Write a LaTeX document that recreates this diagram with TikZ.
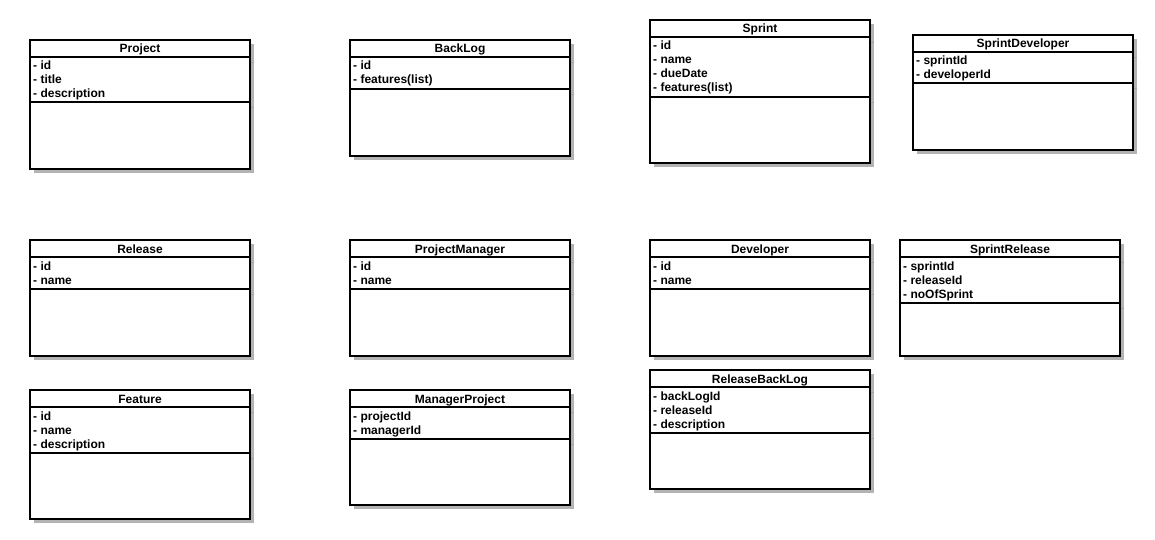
\documentclass[tikz,border=0pt]{standalone}
\usepackage{fontspec}
\setmainfont{Liberation Sans}
\usetikzlibrary{fit}

\definecolor{shadowgray}{RGB}{179,179,179}
\definecolor{shadowline}{RGB}{160,160,160}

\tikzset{
  classbox/.style={draw=black, line width=2pt, fill=white, inner sep=0pt},
  classline/.style={draw=black, line width=2pt},
  classshadow/.style={fill=shadowgray},
  shadowrule/.style={draw=shadowline, line width=0.8pt},
  classtitle/.style={font=\fontsize{12}{14}\selectfont\bfseries, inner sep=0pt},
  attrtext/.style={font=\fontsize{12}{14}\selectfont\bfseries, inner sep=0pt, anchor=base west},
}

% #1 node name, #2 left, #3 top, #4 bottom, #5 y of the attribute divider,
% #6 class name, #7 attribute list
\newcommand{\umlclass}[7]{%
  \fill[classshadow] (#2+4,#3+4) rectangle (#2+224,#4+4);
  \draw[shadowrule] (#2+220,#3+22) -- (#2+224,#3+22);
  \draw[shadowrule] (#2+220,#5+4) -- (#2+224,#5+4);
  \node[classbox, fit={(#2,#3) (#2+220,#4)}] (#1) {};
  \draw[classline] (#1.north west) ++(0,18) -- ++(220,0);
  \draw[classline] (#1.north west) ++(0,#5-#3) -- ++(220,0);
  \node[classtitle, anchor=base] (#1-title) at (#2+110,#3+13) {#6};
  \foreach \a [count=\i] in {#7} {
    \node[attrtext] (#1-a\i) at (#2+3,{#3+16+14*\i}) {- \a};
  }
}

\begin{document}
\begin{tikzpicture}[x=1pt, y=-1pt]
  \useasboundingbox (0,0) rectangle (1155,540);
  \fill[white] (0,0) rectangle (1155,540);

  % top row
  \umlclass{project}{30}{40}{169}{103}{Project}{id,title,description}
  \umlclass{backlog}{350}{40}{156}{90}{BackLog}{id,features(list)}
  \umlclass{sprint}{650}{20}{163}{98}{Sprint}{id,name,dueDate,features(list)}
  \umlclass{sprintdev}{913}{35}{150}{84}{SprintDeveloper}{sprintId,developerId}

  % middle row
  \umlclass{release}{30}{240}{356}{290}{Release}{id,name}
  \umlclass{pm}{350}{240}{356}{290}{ProjectManager}{id,name}
  \umlclass{developer}{650}{240}{356}{290}{Developer}{id,name}
  \umlclass{sprintrel}{900}{240}{356}{304}{SprintRelease}{sprintId,releaseId,noOfSprint}

  % bottom row
  \umlclass{feature}{30}{390}{519}{454}{Feature}{id,name,description}
  \umlclass{mgrproject}{350}{390}{505}{440}{ManagerProject}{projectId,managerId}
  \umlclass{relbacklog}{650}{370}{489}{434}{ReleaseBackLog}{backLogId,releaseId,description}
\end{tikzpicture}
\end{document}
